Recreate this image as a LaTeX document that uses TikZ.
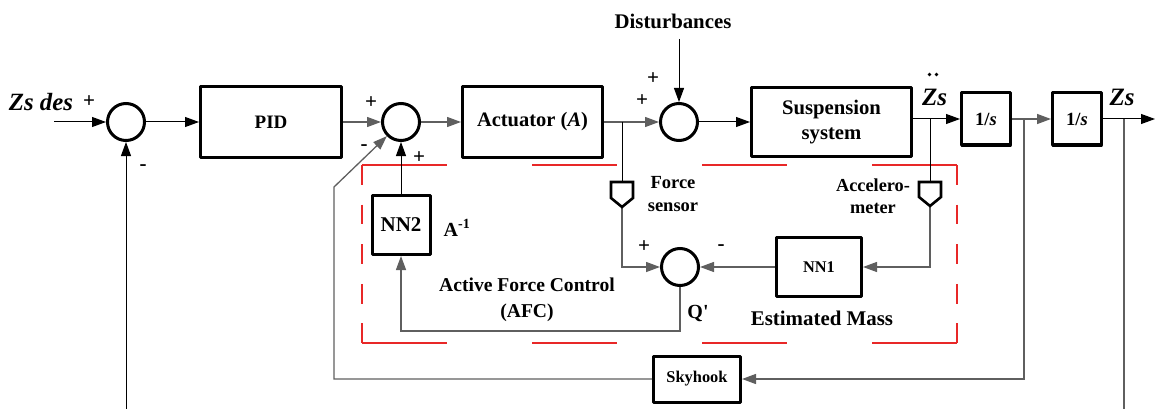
\documentclass[tikz,border=0pt]{standalone}
\usepackage{fontspec}
\setmainfont{Liberation Serif}
\usetikzlibrary{arrows.meta}
\definecolor{lg}{RGB}{95,95,95}
\definecolor{afcred}{RGB}{232,40,40}
\newcommand\fz[2]{\fontsize{#1}{#2}\selectfont}
\begin{document}
\begin{tikzpicture}[x=1pt,y=-1pt,
  sumc/.style={circle,draw,line width=3pt,minimum size=37pt,inner sep=0},
  blk/.style={rectangle,draw,line width=3pt,line join=round,inner sep=0,align=center},
  arr/.style={-{Triangle[length=14pt,width=10pt]}},
  conn/.style={line width=1pt},
  gconn/.style={line width=1.3pt,lg},
  lbl/.style={inner sep=0,align=center},
  sgn/.style={inner sep=0,font=\bfseries\fz{21}{21}},
  sensor/.style={line width=2.6pt,line join=miter},
  afc/.style={afcred,line width=1.3pt}]
\useasboundingbox (0,0) rectangle (1156,409);

% blocks
\node[sumc] (c1) at (126,122) {};
\node[blk,minimum width=141pt,minimum height=71pt,font=\bfseries\fz{19}{22}] (pid) at (271,122) {PID};
\node[sumc] (c2) at (401,122) {};
\node[blk,minimum width=140pt,minimum height=70pt,font=\bfseries\fz{20.5}{24}] (act) at (532.5,122) {Actuator (\textit{A})};
\node[sumc] (c3) at (679,122) {};
\node[blk,minimum width=160pt,minimum height=68pt,font=\bfseries\fz{20.7}{25}] (susp) at (831.5,122) {Suspension\\system};
\node[blk,minimum width=49pt,minimum height=52pt,font=\bfseries\fz{18.6}{22}] (i1) at (986,119) {1/\textit{s}};
\node[blk,minimum width=49pt,minimum height=52pt,font=\bfseries\fz{18.6}{22}] (i2) at (1077,119) {1/\textit{s}};
\node[blk,minimum width=58pt,minimum height=59pt,font=\bfseries\fz{21}{24}] (nn2) at (401,225) {NN2};
\node[sumc] (c4) at (680,267) {};
\node[blk,minimum width=85pt,minimum height=59pt,font=\bfseries\fz{16.3}{20}] (nn1) at (819,267) {NN1};
\node[blk,minimum width=87pt,minimum height=46pt,font=\bfseries\fz{16.4}{20}] (sky) at (697,379) {Skyhook};

% coordinates
\coordinate (in) at (54,122);
\coordinate (fbB) at (126,409);
\coordinate (dist) at (679,39);
\coordinate (bA) at (622,122);
\coordinate (bS) at (930,119);
\coordinate (b1) at (1024,119);
\coordinate (b2) at (1124,119);
\coordinate (out) at (1155,119);
\coordinate (outB) at (1124,409);
\coordinate (fsT) at (622,182);
\coordinate (fsB) at (622,207);
\coordinate (acT) at (930,182);
\coordinate (acB) at (930,206);
\coordinate (skL) at (334,379);
\coordinate (skU) at (334,187);
\coordinate (afcC) at (401,331);

% red AFC box
\draw[afc,dash pattern=on 85pt off 85pt] (362,165) -- (957,165);
\draw[afc,dash pattern=on 85pt off 85pt] (362,343) -- (957,343);
\draw[afc,dash pattern=on 19.8pt off 19.8pt] (362,165) -- (362,343);
\draw[afc,dash pattern=on 19.8pt off 19.8pt] (957,165) -- (957,343);

% connectors
\draw[conn,arr] (in) -- (c1);
\draw[conn,arr] (c1) -- (pid);
\draw[gconn,arr] (pid) -- (c2);
\draw[gconn,arr] (c2) -- (act);
\draw[gconn,arr] (act) -- (c3);
\draw[conn,arr] (dist) -- (c3);
\draw[conn,arr] (c3) -- (susp);
\draw[conn,arr] (susp.east |- i1.west) -- (i1);
\draw[gconn,arr] (i1) -- (i2);
\draw[conn,arr] (i2) -- (out);
\draw[conn,arr] (fbB) -- (c1);
\draw[gconn] (b2) -- (outB);
\draw[gconn,arr] (b1) |- (sky);
\draw[gconn,arr] (sky) -- (skL) -- (skU) -- (c2.225);
\draw[conn] (bA) -- (fsT);
\draw[gconn,arr] (fsB) |- (c4);
\draw[conn] (bS) -- (acT);
\draw[gconn,arr] (acB) |- (nn1);
\draw[gconn,arr] (nn1) -- (c4);
\draw[gconn,arr] (c4.south) |- (afcC) -- (nn2.south);
\draw[conn,arr] (nn2) -- (c2);

% sensors
\draw[sensor] (fsT) ++(-11,0) -- ++(22,0) -- ++(0,16) -- (fsB) -- ++(-11,-9) -- cycle;
\draw[sensor] (acT) ++(-11,0) -- ++(22,0) -- ++(0,15) -- (acB) -- ++(-11,-9) -- cycle;

% labels
\node[lbl,font=\bfseries\fz{20.8}{24}] (tdist) at (673,21) {Disturbances};
\node[lbl,font=\bfseries\itshape\fz{24.8}{28}] (tzdes) at (41,102) {Zs des};
\node[lbl,font=\bfseries\itshape\fz{25}{28}] (tzdd) at (934.5,97) {Zs};
\fill (929.5,74.5) circle (1.8);
\fill (936.5,74.5) circle (1.8);
\node[lbl,font=\bfseries\itshape\fz{25}{28}] (tzs) at (1122,97) {Zs};
\node[lbl,font=\bfseries\fz{18.5}{23}] (tfs) at (673,194) {Force\\sensor};
\node[lbl,font=\bfseries\fz{18.3}{22}] (tacc) at (873,196) {Accelero-\\meter};
\node[lbl,font=\bfseries\fz{20}{24}] (tainv) at (457,228) {A\textsuperscript{-1}};
\node[lbl,font=\bfseries\fz{19.6}{26}] (tafc) at (527,300) {Active Force Control\\(AFC)};
\node[lbl,font=\bfseries\fz{20}{24}] (tq) at (698,313) {Q\textquotesingle};
\node[lbl,font=\bfseries\fz{20.9}{24}] (tem) at (822,318) {Estimated Mass};

% signs
\node[sgn] at (89,102) {+};
\node[sgn] at (143,168) {-};
\node[sgn] at (371,103) {+};
\node[sgn] at (364,148) {-};
\node[sgn] at (419,158) {+};
\node[sgn] at (653,79) {+};
\node[sgn] at (642,101) {+};
\node[sgn] at (644,247) {+};
\node[sgn] at (721,248) {-};
\end{tikzpicture}
\end{document}
